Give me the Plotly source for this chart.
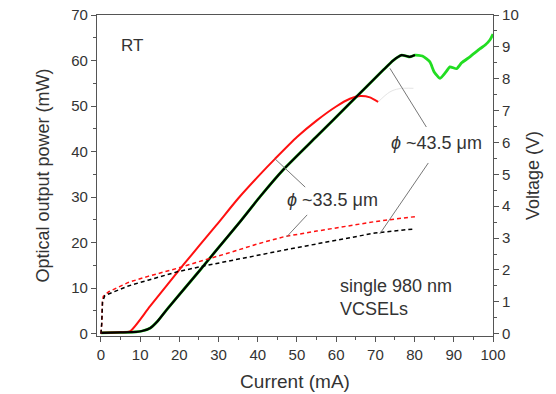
import plotly.graph_objects as go

# ---- data ----
red_I = [0, 5, 7.4, 12.5, 21, 29.5, 35, 40.6, 44.4, 50, 55, 60, 63.5, 66.1, 68.6, 70.7]
red_P = [0.2, 0.3, 0.5, 6, 15.1, 23.9, 29.7, 35, 38.4, 43.2, 46.8, 49.9, 51.6, 52.2, 51.9, 50.9]

red_tail_I = [70.7, 73.7, 76, 79.7]
red_tail_P = [50.9, 53.1, 53.8, 53.9]

blk_I = [0, 5, 9, 10.5, 12.5, 14.5, 16.8, 21, 25.3, 29.5, 35.5, 40.6, 46.5, 55, 63.5, 72, 74.5, 76.7, 78.8, 80.1]
blk_P = [0.2, 0.3, 0.4, 0.6, 1.2, 2.8, 5.3, 9.6, 14, 18.4, 24.6, 30.1, 36, 43.3, 50.6, 57.9, 60, 61.2, 60.8, 61.2]

grn_tail_I = [82, 83.9, 85, 86.5, 88, 89, 90.7, 92, 94.1, 96.7, 98, 99.2, 100]
grn_tail_P = [61, 59.7, 57.5, 56.1, 57.5, 58.6, 58.2, 59.5, 60.8, 62.6, 63.4, 64.5, 65.8]

redV_I = [0, 0.2, 0.4, 0.6, 2, 7, 12, 19.7, 26, 32.5, 40, 46.9, 55, 62.2, 70, 80.5]
redV_V = [0, 0.3, 1.0, 1.17, 1.32, 1.61, 1.8, 2.06, 2.3, 2.53, 2.82, 3.05, 3.22, 3.36, 3.52, 3.68]

blkV_I = [0, 0.2, 0.4, 1, 3, 7, 12, 19.7, 26, 32.5, 40, 46.9, 55, 62, 69.9, 80.1]
blkV_V = [0, 0.3, 1.0, 1.2, 1.3, 1.5, 1.68, 1.95, 2.12, 2.27, 2.46, 2.63, 2.82, 2.98, 3.16, 3.29]

x_ticks = [0, 10, 20, 30, 40, 50, 60, 70, 80, 90, 100]
yl_ticks = [0, 10, 20, 30, 40, 50, 60, 70]
yr_ticks = [0, 1, 2, 3, 4, 5, 6, 7, 8, 9, 10]

FONT = "Arial, Liberation Sans, sans-serif"
AX = "#555555"
TXT = "#333333"

fig = go.Figure()

# green device (under black)
fig.add_trace(go.Scatter(x=blk_I + grn_tail_I, y=blk_P + grn_tail_P, mode="lines",
                         line=dict(color="#22dd22", width=2.8, shape="spline", smoothing=0.5),
                         showlegend=False))
fig.add_trace(go.Scatter(x=red_tail_I, y=red_tail_P, mode="lines",
                         line=dict(color="#e4e4e4", width=1, shape="spline"), showlegend=False))
fig.add_trace(go.Scatter(x=red_I, y=red_P, mode="lines",
                         line=dict(color="#ff1010", width=2, shape="spline", smoothing=0.6),
                         showlegend=False))
fig.add_trace(go.Scatter(x=blk_I, y=blk_P, mode="lines",
                         line=dict(color="#000000", width=2.2, shape="spline", smoothing=0.5),
                         showlegend=False))
# voltage curves
fig.add_trace(go.Scatter(x=redV_I, y=redV_V, mode="lines", yaxis="y2",
                         line=dict(color="#ff1010", width=1.5, dash="4px,3px"), showlegend=False))
fig.add_trace(go.Scatter(x=blkV_I, y=blkV_V, mode="lines", yaxis="y2",
                         line=dict(color="#000000", width=1.5, dash="4px,3px"), showlegend=False))

# leader lines
leaders = [
    (44.4, 38.4, 52.1, 32.2),
    (52.6, 26.1, 47.4, 21.3),
    (73.7, 58.3, 83.0, 45.4),
    (83.5, 37.5, 71.1, 21.9),
]
for x0, y0, x1, y1 in leaders:
    fig.add_shape(type="line", x0=x0, y0=y0, x1=x1, y1=y1, xref="x", yref="y",
                  line=dict(color="#777777", width=1))

ann_font = dict(family=FONT, size=18, color=TXT)
fig.add_annotation(x=59, y=29.4, text="<i>ϕ</i> ~33.5 μm", showarrow=False, font=ann_font)
fig.add_annotation(x=85.6, y=41.9, text="<i>ϕ</i> ~43.5 μm", showarrow=False, font=ann_font)
fig.add_annotation(x=8, y=63.4, text="RT", showarrow=False, font=dict(family=FONT, size=17, color=TXT))
fig.add_annotation(x=60.5, y=8, text="single 980 nm<br>VCSELs", showarrow=False,
                   xanchor="left", align="left", font=ann_font)

fig.update_layout(
    width=556, height=394,
    margin=dict(l=97, r=63, t=15, b=58),
    plot_bgcolor="white", paper_bgcolor="white",
    font=dict(family=FONT, size=15, color=TXT),
    xaxis=dict(range=[-1, 100], tickvals=x_ticks, ticks="outside", ticklen=5, tickcolor=AX,
               showline=True, linecolor=AX, linewidth=1.2, mirror=True, showgrid=False, zeroline=False,
               automargin=False,
               minor=dict(dtick=5, tick0=0, ticks="outside", ticklen=3, tickcolor=AX),
               title=dict(text="Current (mA)", font=dict(size=19), standoff=12),
               tickfont=dict(size=15, color=TXT)),
    yaxis=dict(range=[-0.5, 70], tickvals=yl_ticks, ticks="outside", ticklen=5, tickcolor=AX,
               showline=True, linecolor=AX, linewidth=1.2, showgrid=False, zeroline=False,
               automargin=False,
               minor=dict(dtick=5, tick0=0, ticks="outside", ticklen=3, tickcolor=AX),
               title=dict(text="Optical output power (mW)", font=dict(size=18), standoff=16),
               tickfont=dict(size=15, color=TXT)),
    yaxis2=dict(range=[-0.5 / 7, 10], tickvals=yr_ticks, ticks="outside", ticklen=5, tickcolor=AX,
                overlaying="y", side="right", automargin=False,
                showline=True, linecolor=AX, linewidth=1.2, showgrid=False, zeroline=False,
                minor=dict(dtick=0.5, tick0=0, ticks="outside", ticklen=3, tickcolor=AX),
                title=dict(text="Voltage (V)", font=dict(size=18), standoff=8),
                tickfont=dict(size=15, color=TXT)),
)

fig.write_html("out.html")
